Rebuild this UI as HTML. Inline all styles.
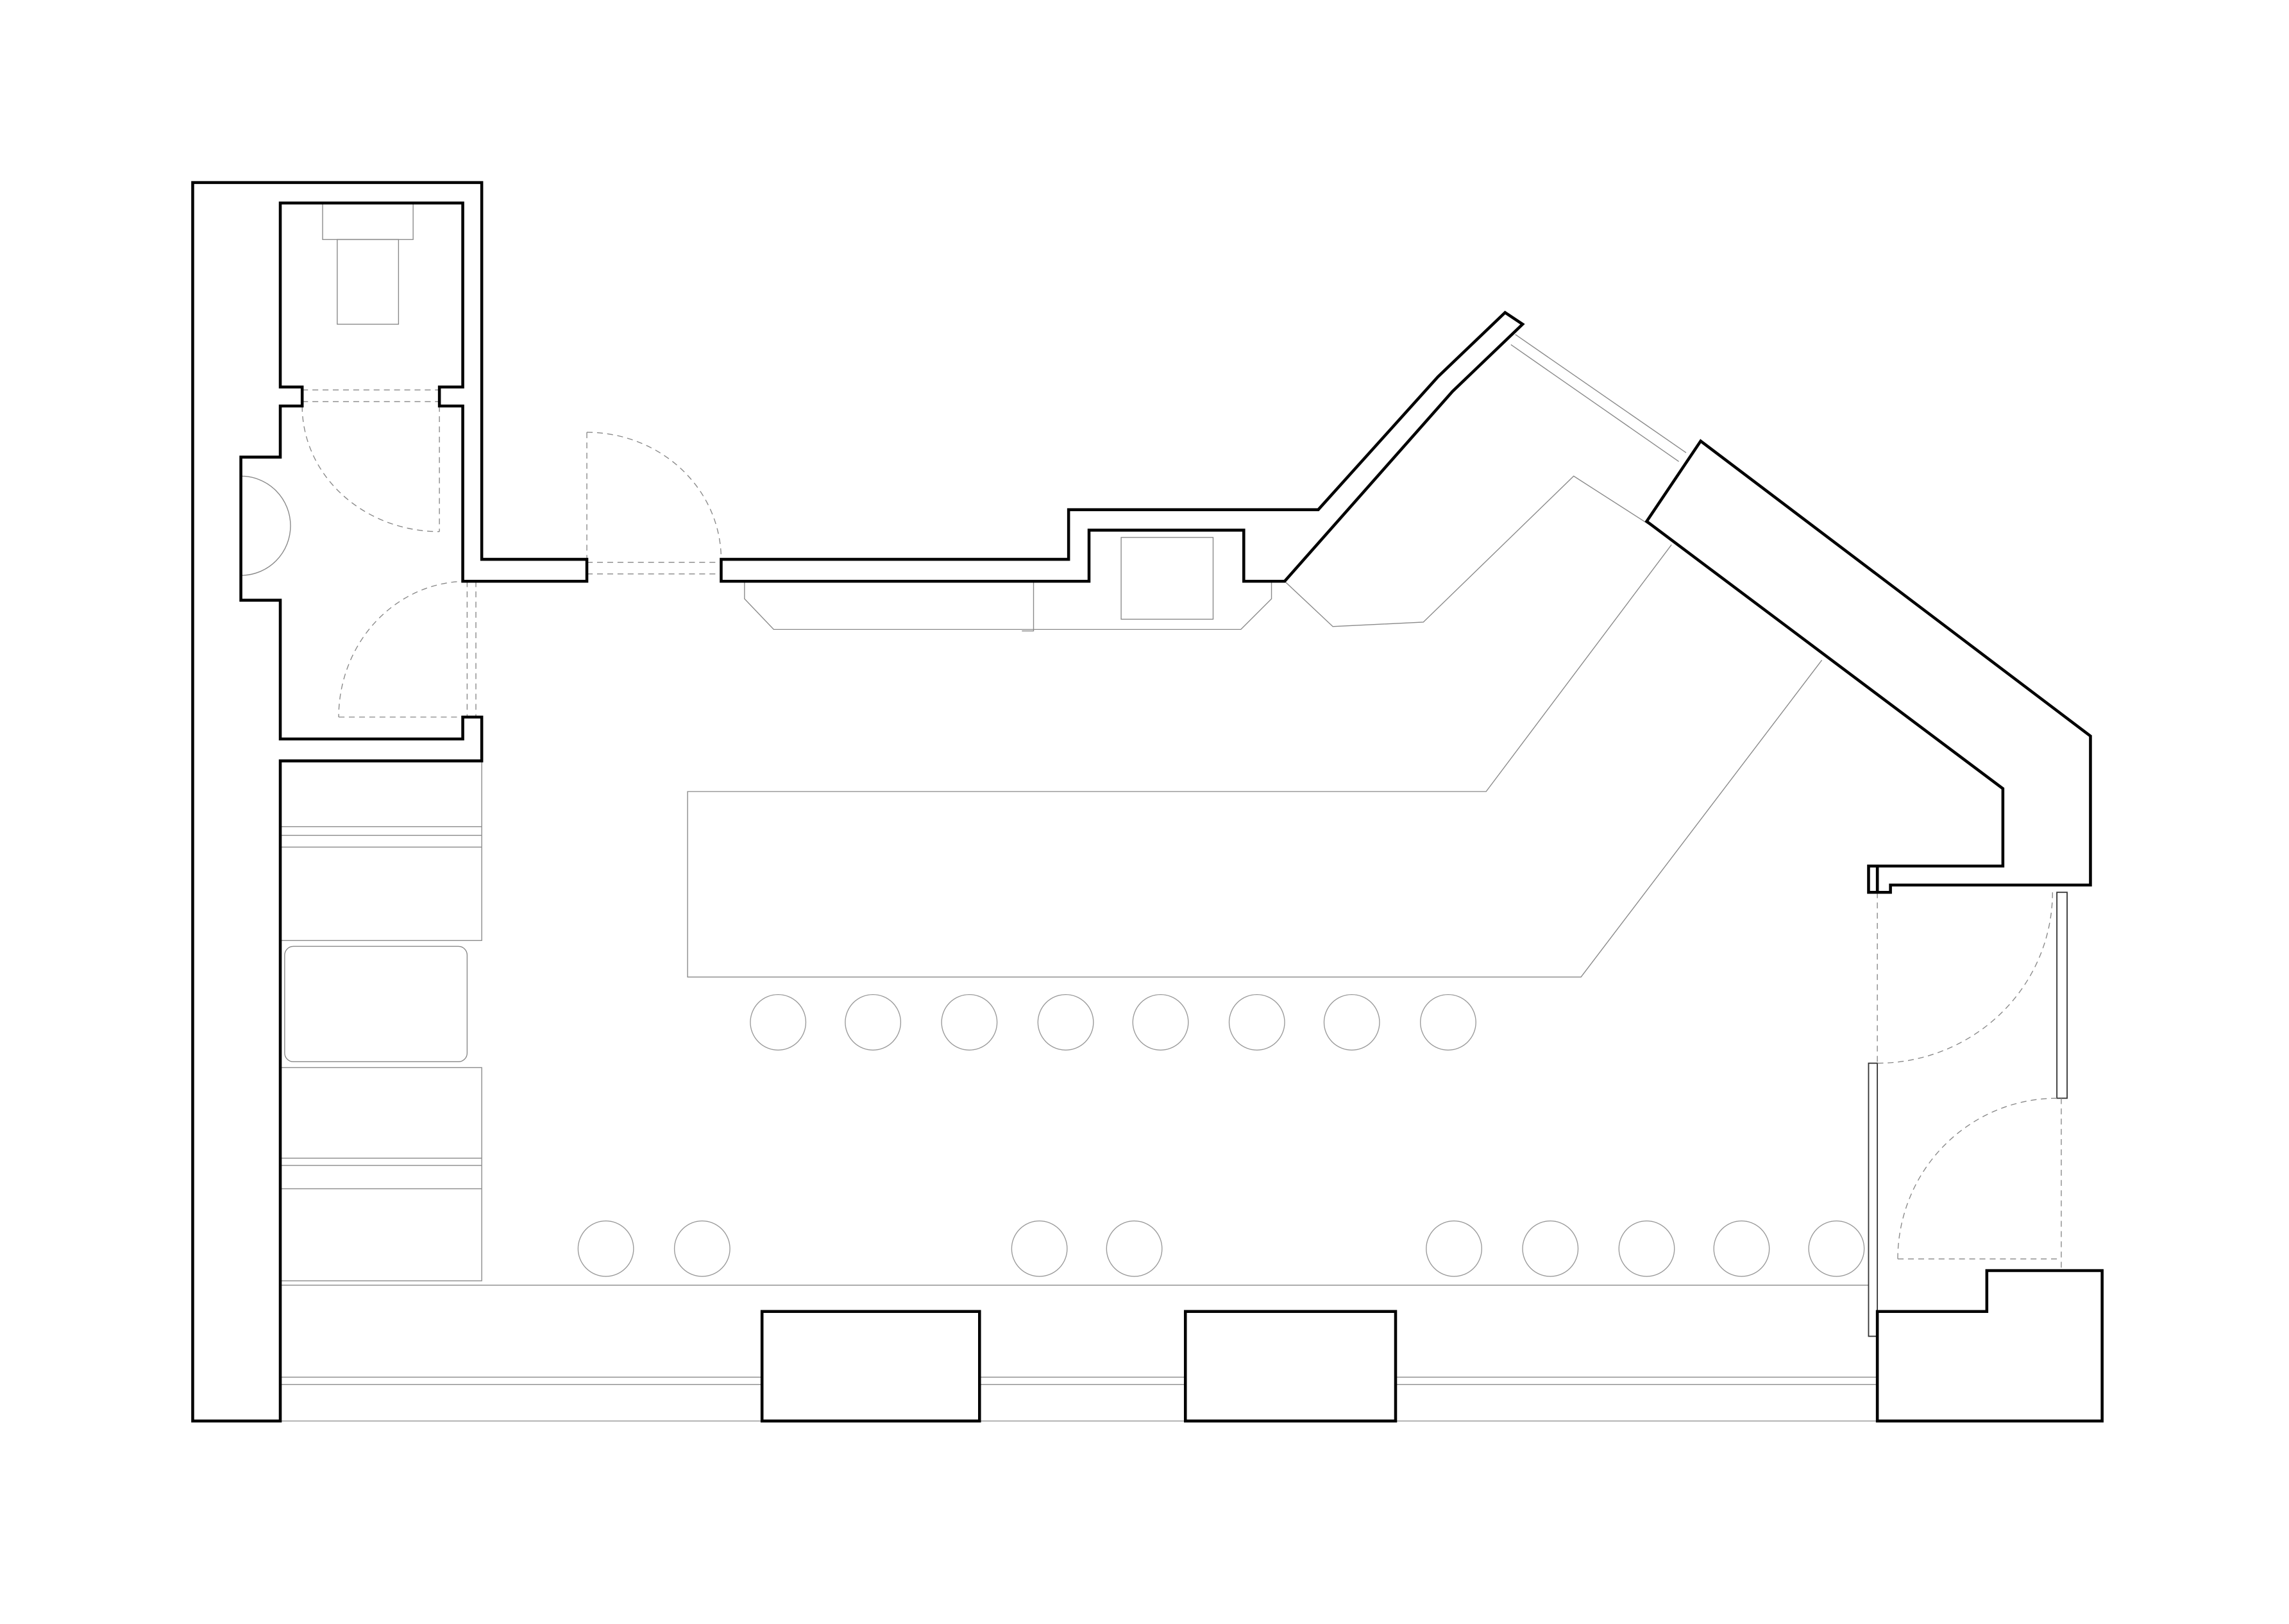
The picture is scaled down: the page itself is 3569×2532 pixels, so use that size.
<!DOCTYPE html>
<html><head><meta charset="utf-8"><style>
html,body{margin:0;padding:0;background:#fff;}
svg{display:block;}
</style></head><body>
<svg width="3569" height="2532" viewBox="0 0 1568 1112" preserveAspectRatio="none" xmlns="http://www.w3.org/2000/svg">
<rect width="1568" height="1112" fill="#fff"/>
<g fill="none" stroke="#888" stroke-width="0.6">
<!-- counters -->
<polyline points="1145,373 1018,542 471,542 471,669 1083,669 1248,452"/>
<polyline points="880,398 913,429 975,426 1078,326 1145,369"/>
<polyline points="510,398 510,410 530,431 850,431 871,410 871,398"/>
<rect x="768" y="368" width="63" height="56"/>
<polyline points="700,432 708,432 708,398"/>
<!-- toilet -->
<rect x="221" y="139" width="62" height="25"/>
<rect x="231" y="164" width="42" height="58"/>
<path d="M165,326 A34,34 0 0 1 165,394"/>
<!-- banquettes -->
<rect x="192" y="521" width="138" height="123"/>
<line x1="192" y1="566" x2="330" y2="566"/><line x1="192" y1="572" x2="330" y2="572"/><line x1="192" y1="580" x2="330" y2="580"/>
<rect x="195" y="648" width="125" height="79" rx="6"/>
<rect x="192" y="731" width="138" height="146"/>
<line x1="192" y1="793" x2="330" y2="793"/><line x1="192" y1="798" x2="330" y2="798"/><line x1="192" y1="814" x2="330" y2="814"/>
<!-- windows -->
<line x1="192" y1="880" x2="1280" y2="880"/>
<line x1="192" y1="943" x2="1286" y2="943"/><line x1="192" y1="948" x2="1286" y2="948"/><line x1="192" y1="973" x2="1286" y2="973"/>
<line x1="1038" y1="229" x2="1155" y2="310"/><line x1="1035" y1="236" x2="1150" y2="316"/>
</g>
<g fill="none" stroke="#333" stroke-width="0.8">
<rect x="1280" y="728" width="6" height="187"/>
<rect x="1409" y="611" width="7" height="141"/>
</g>
<g fill="none" stroke="#999" stroke-width="0.6">
<circle cx="533" cy="700" r="19"/><circle cx="598" cy="700" r="19"/><circle cx="664" cy="700" r="19"/><circle cx="730" cy="700" r="19"/>
<circle cx="795" cy="700" r="19"/><circle cx="861" cy="700" r="19"/><circle cx="926" cy="700" r="19"/><circle cx="992" cy="700" r="19"/>
<circle cx="415" cy="855" r="19"/><circle cx="481" cy="855" r="19"/><circle cx="712" cy="855" r="19"/><circle cx="777" cy="855" r="19"/>
<circle cx="996" cy="855" r="19"/><circle cx="1062" cy="855" r="19"/><circle cx="1128" cy="855" r="19"/><circle cx="1193" cy="855" r="19"/><circle cx="1258" cy="855" r="19"/>
</g>
<g fill="none" stroke="#888" stroke-width="0.6" stroke-dasharray="4,3">
<line x1="207" y1="267" x2="301" y2="267"/><line x1="207" y1="275" x2="301" y2="275"/>
<path d="M207,278 A94,86 0 0 0 301,364"/><line x1="301" y1="278" x2="301" y2="364"/>
<line x1="320" y1="398" x2="320" y2="491"/><line x1="326" y1="398" x2="326" y2="491"/>
<path d="M320,398 A88,93 0 0 0 232,491"/><line x1="232" y1="491" x2="320" y2="491"/>
<line x1="402" y1="296" x2="402" y2="383"/>
<path d="M402,296 A92,87 0 0 1 494,383"/>
<line x1="402" y1="385" x2="494" y2="385"/><line x1="402" y1="393" x2="494" y2="393"/>
<line x1="1286" y1="611" x2="1286" y2="728"/>
<path d="M1406,611 A120,117 0 0 1 1286,728"/>
<path d="M1300,862 A109,110 0 0 1 1409,752"/>
<line x1="1300" y1="862" x2="1409" y2="862"/>
<line x1="1412" y1="752" x2="1412" y2="870"/>
</g>
<g fill="#fff" stroke="#000" stroke-width="2" stroke-linejoin="miter">
<polygon points="132,125 330,125 330,383 402,383 402,398 317,398 317,278 301,278 301,265 317,265 317,139 192,139 192,265 207,265 207,278 192,278 192,313 165,313 165,411 192,411 192,506 317,506 317,491 330,491 330,521 192,521 192,973 132,973"/>
<polygon points="494,383 732,383 732,349 903,349 985,258 1031,214 1043,222 995,268 880,398 852,398 852,363 746,363 746,398 494,398"/>
<polygon points="1165,302 1432,504 1432,606 1295,606 1295,611 1286,611 1286,593 1372,593 1372,540 1128,357"/>
<rect x="1280" y="593" width="6" height="18"/>
<polygon points="1286,898 1361,898 1361,870 1440,870 1440,973 1286,973"/>
<rect x="522" y="898" width="149" height="75"/>
<rect x="812" y="898" width="144" height="75"/>
</g>
</svg>
</body></html>
